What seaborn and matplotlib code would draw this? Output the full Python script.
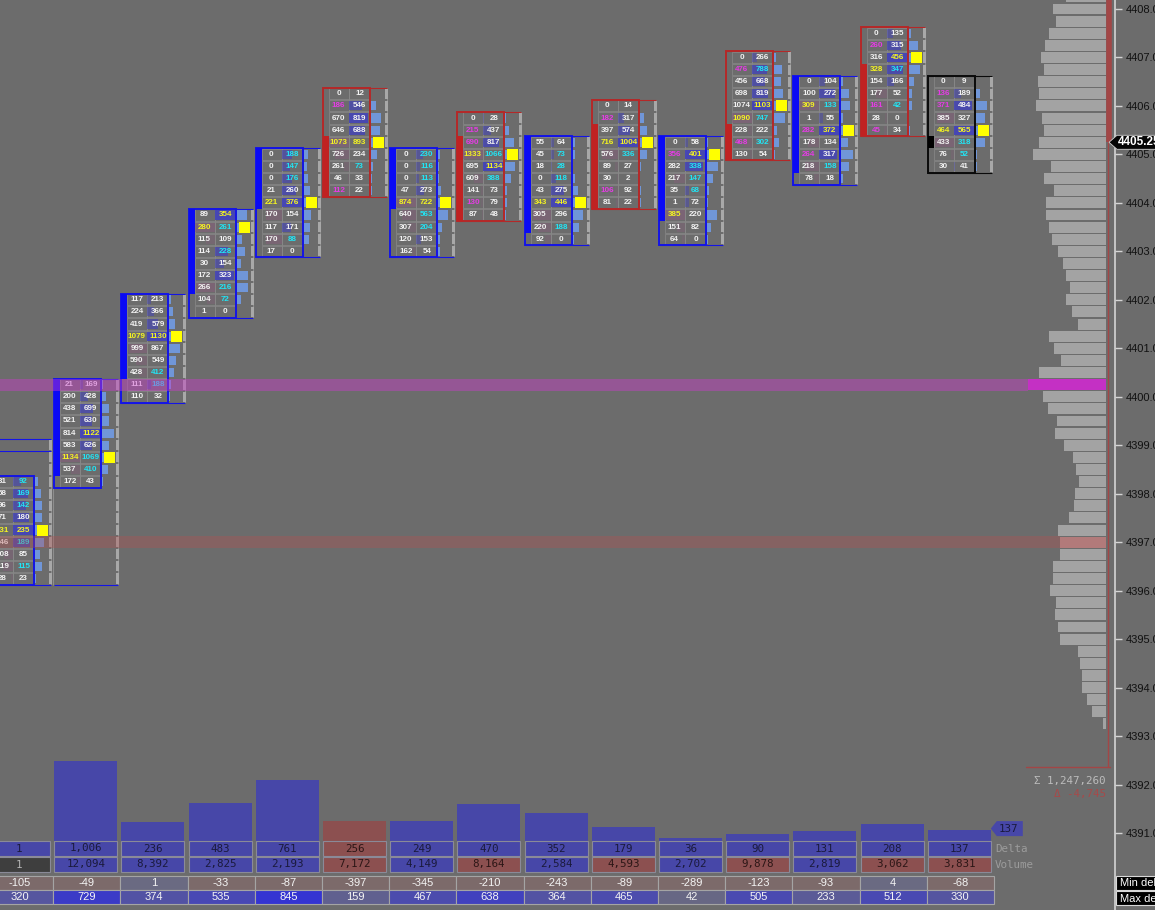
import numpy as np
import pandas as pd
import matplotlib.pyplot as plt
from matplotlib.patches import Rectangle, Polygon
import seaborn as sns

sns.set_theme(style='dark')
plt.rcParams['font.family'] = ['Liberation Sans', 'DejaVu Sans']

BG = '#6c6c6c'
W, H = 1155, 910

# --- footprint bars: rows listed from the top price downwards ---
tops = [4398.25, 4400.25, 4402.0, 4403.75, 4405.0, 4406.25, 4405.0, 4405.75,
        4405.25, 4406.0, 4405.25, 4407.0, 4406.5, 4407.5, 4406.5]
opens = [4396.75, 4398.5, 4400.5, 4402.25, 4404.0, 4405.25, 4404.0, 4405.25,
         4403.5, 4405.5, 4403.75, 4405.5, 4404.75, 4406.75, 4405.25]
closes = [4398.0, 4400.25, 4402.0, 4403.75, 4405.0, 4404.25, 4405.0, 4403.75,
          4405.25, 4404.0, 4405.25, 4405.0, 4406.5, 4405.5, 4405.25]
col_hi = [4399.0, 4400.25, 4402.0, 4403.75, 4405.0, 4406.25, 4405.0, 4405.75,
          4405.25, 4406.0, 4405.25, 4407.0, 4406.5, 4407.5, 4406.5]
col_lo = [4396.25, 4396.25, 4400.0, 4401.75, 4403.0, 4404.25, 4403.0, 4403.75,
          4403.25, 4404.0, 4403.25, 4405.0, 4404.5, 4405.5, 4404.75]
bids = [
    [31, 58, 96, 71, 231, 146, 108, 119, 28],
    [21, 200, 438, 521, 814, 583, 1134, 537, 172],
    [117, 224, 419, 1079, 999, 590, 428, 111, 110],
    [89, 280, 115, 114, 30, 172, 266, 104, 1],
    [0, 0, 0, 21, 221, 170, 117, 170, 17],
    [0, 186, 670, 646, 1073, 726, 261, 46, 112],
    [0, 0, 0, 47, 874, 640, 307, 120, 162],
    [0, 215, 690, 1333, 695, 609, 141, 130, 87],
    [55, 45, 18, 0, 43, 343, 305, 220, 92],
    [0, 182, 397, 716, 576, 89, 30, 106, 81],
    [0, 356, 282, 217, 35, 1, 385, 151, 64],
    [0, 476, 456, 698, 1074, 1090, 228, 468, 130],
    [0, 100, 309, 1, 282, 178, 264, 218, 78],
    [0, 260, 316, 328, 154, 177, 161, 28, 45],
    [0, 136, 371, 385, 464, 433, 76, 30],
]
asks = [
    [92, 169, 142, 180, 235, 189, 85, 115, 23],
    [169, 428, 699, 630, 1122, 626, 1069, 410, 43],
    [213, 366, 579, 1130, 867, 549, 412, 188, 32],
    [354, 261, 109, 228, 154, 323, 216, 72, 0],
    [188, 147, 176, 260, 376, 154, 171, 88, 0],
    [12, 546, 819, 688, 893, 234, 73, 33, 22],
    [230, 116, 113, 273, 722, 563, 204, 153, 54],
    [28, 437, 817, 1066, 1134, 388, 73, 79, 48],
    [64, 73, 28, 118, 275, 446, 296, 188, 0],
    [14, 317, 574, 1004, 336, 27, 2, 92, 22],
    [58, 401, 338, 147, 68, 72, 220, 82, 0],
    [266, 788, 668, 819, 1103, 747, 222, 302, 54],
    [104, 272, 133, 55, 372, 134, 317, 158, 18],
    [135, 315, 456, 347, 166, 52, 42, 0, 34],
    [9, 189, 484, 327, 565, 318, 52, 41],
]

# --- bottom study ---
deltas = [1, 1006, 236, 483, 761, 256, 249, 470, 352, 179, 36, 90, 131, 208, 137]
delta_side = ['b', 'b', 'b', 'b', 'b', 'r', 'b', 'b', 'b', 'b', 'b', 'b', 'b', 'b', 'b']
volumes = [1, 12094, 8392, 2825, 2193, 7172, 4149, 8164, 2584, 4593, 2702, 9878, 2819, 3062, 3831]
vol_side = ['n', 'b', 'b', 'b', 'b', 'r', 'b', 'r', 'b', 'r', 'b', 'r', 'b', 'r', 'r']
min_delta = [-105, -49, 1, -33, -87, -397, -345, -210, -243, -89, -289, -123, -93, 4, -68]
max_delta = [320, 729, 374, 535, 845, 159, 467, 638, 364, 465, 42, 505, 233, 512, 330]

# --- session volume profile (right) ---
prof_prices = list(np.arange(4408.25, 4393.0, -0.25))
prof_vol = [16000, 21200, 20000, 22800, 24400, 26000, 24800, 27200, 26800, 28000,
            25600, 24800, 26800, 29200, 22000, 24800, 20800, 24000, 24000, 22800,
            21600, 19200, 17200, 16000, 14400, 16000, 13600, 11200, 22800, 20800,
            18000, 26800, 31200, 25200, 23200, 19600, 20400, 16800, 13200, 12000,
            10800, 12400, 12800, 14800, 19200, 18400, 18400, 21200, 21200, 22400,
            20000, 20400, 19200, 18400, 11200, 10400, 9600, 9600, 7600, 5600, 1200]
poc_price = 4400.25
hvn_price = 4397.0
last_price = 4405.25
total_vol = '1,247,260'
total_delta = '-4,745'

ux, uy = 1 / 67.2, 1 / 48.47
XL = (13 * ux, 1128 * ux)
YL = (4408 - 901 * uy, 4408 + 9 * uy)

fig = plt.figure(figsize=(W / 100, H / 100), dpi=100)
fig.patch.set_facecolor(BG)

ax = fig.add_axes([0, 0, 1115 / W, 1])
ax.set_facecolor(BG)
ax.set_xlim(*XL)
ax.set_ylim(*YL)
ax.grid(False)
for s in ['left', 'top', 'bottom']:
    ax.spines[s].set_visible(False)
ax.spines['right'].set_color('#d4d4d4')
ax.spines['right'].set_linewidth(1.2)
ax.yaxis.tick_right()
ticks = np.arange(4391, 4409)
ax.set_yticks(ticks)
ax.set_yticklabels([f'{t:.1f}' for t in ticks], fontsize=8, color='#111111')
ax.tick_params(axis='y', length=5, width=1, color='#d4d4d4', pad=3, right=True, left=False)
ax.set_xticks([])

edge_c = {'b': '#1414e6', 'r': '#b42828', 'k': '#0a0a0a'}
body_c = {'b': '#0a0af5', 'r': '#c02222', 'k': '#000000'}

for i in range(len(tops)):
    b = np.array(bids[i])
    a = np.array(asks[i])
    n = len(b)
    pr = tops[i] - 0.25 * np.arange(n)
    side = 'b' if closes[i] > opens[i] else ('r' if closes[i] < opens[i] else 'k')
    B = float(i)

    # column outline
    chi, clo = col_hi[i] + 0.125, col_lo[i] - 0.125
    ax.vlines([B - ux, B + 64 * ux], clo, chi, color='#8e8e8e', lw=0.8, zorder=1)
    ax.hlines([clo, chi], B, B + 64 * ux, color=edge_c[side], lw=0.8, zorder=1)
    if col_hi[i] > tops[i]:
        ax.hlines(col_hi[i] - 0.125, B, B + 64 * ux, color=edge_c[side], lw=0.8, zorder=1)
    for p in np.arange(col_hi[i], col_lo[i] - 0.01, -0.25):
        ax.add_patch(Rectangle((B + 62 * ux, p - 0.125 + uy), 3 * ux, 0.25 - 2 * uy,
                               fc='#a8a8a8', ec='none', zorder=2))

    # colours of the numbers
    bc = ['#f2f2f2'] * n
    ac = ['#f2f2f2'] * n
    for k in range(n):
        if k + 1 < n and a[k] > 0 and a[k] >= 1.5 * b[k + 1]:
            ac[k] = '#22e4f4'
        if k > 0 and b[k] > 0 and b[k] >= 1.5 * a[k - 1]:
            bc[k] = '#e43ce4'
        if a[k] == a.max():
            ac[k] = '#f4f422'
        if b[k] == b.max():
            bc[k] = '#f4f422'

    tot = b + a
    for k in range(n):
        y0 = pr[k] - 0.125
        ax.add_patch(Rectangle((B + 6 * ux, y0 + 0.5 * uy), 20 * ux, 0.25 - uy,
                               fc='none', ec='#8a8a8a', lw=0.5, zorder=2))
        ax.add_patch(Rectangle((B + 26 * ux, y0 + 0.5 * uy), 21 * ux, 0.25 - uy,
                               fc='none', ec='#8a8a8a', lw=0.5, zorder=2))
        if a[k] > b[k]:
            r = a[k] / a.max()
            ax.add_patch(Rectangle((B + 26 * ux, y0 + 1.5 * uy), 21 * ux * r, 0.25 - 3 * uy,
                                   fc='#4444b8', alpha=0.35 + 0.6 * r, ec='none', zorder=2))
        elif b[k] > a[k]:
            r = b[k] / b.max()
            ax.add_patch(Rectangle((B + 26 * ux - 20 * ux * r, y0 + 1.5 * uy), 20 * ux * r,
                                   0.25 - 3 * uy, fc='#84607a', alpha=0.25 + 0.4 * r,
                                   ec='none', zorder=2))
        ax.text(B + 15.5 * ux, pr[k], str(b[k]), color=bc[k], fontsize=5.8, weight='bold',
                ha='center', va='center', zorder=4, clip_on=True)
        ax.text(B + 36.5 * ux, pr[k], str(a[k]), color=ac[k], fontsize=5.8, weight='bold',
                ha='center', va='center', zorder=4, clip_on=True)
        # bar profile
        ax.add_patch(Rectangle((B + 48 * ux, y0 + 1.5 * uy), 13 * ux * tot[k] / tot.max(),
                               0.25 - 3 * uy, fc='#7096d8', ec='none', zorder=2))

    # box and candle body
    ax.add_patch(Rectangle((B, pr[-1] - 0.125), 47 * ux, n * 0.25, fc='none',
                           ec=edge_c[side], lw=1.4, zorder=3))
    bhi = max(opens[i], closes[i]) + 0.125
    blo = min(opens[i], closes[i]) - 0.125
    ax.add_patch(Rectangle((B, blo), 6 * ux, bhi - blo, fc=body_c[side], ec='none', zorder=3))
    poc = int(np.argmax(tot))
    ax.add_patch(Rectangle((B + 50 * ux, pr[poc] - 5.5 * uy), 11 * ux, 11 * uy,
                           fc='#ffff00', ec='none', zorder=5))

# highlighted profile levels across the chart
ax.axhspan(poc_price - 0.125, poc_price + 0.125, xmin=0, xmax=1028 / 1115,
           color='#c83cc8', alpha=0.45, lw=0, zorder=8)
ax.axhspan(hvn_price - 0.125, hvn_price + 0.125, xmin=0, xmax=1060 / 1115,
           color='#b45050', alpha=0.35, lw=0, zorder=8)

# profile frame (red) and last price tag
vp_bottom = 4408 - 758 * uy
ax.plot([1122 * ux, 1122 * ux], [last_price, YL[1]], color='#a24646', lw=4, zorder=6,
        solid_capstyle='butt')
ax.plot([1121 * ux, 1121 * ux], [vp_bottom, last_price], color='#a24646', lw=1, zorder=6)
ax.plot([1039 * ux, 1123 * ux], [vp_bottom, vp_bottom], color='#a24646', lw=1, zorder=6)
tag = Polygon([(1122 * ux, last_price), (1130 * ux, last_price + 7 * uy),
               (1180 * ux, last_price + 7 * uy), (1180 * ux, last_price - 7 * uy),
               (1130 * ux, last_price - 7 * uy)], closed=True, fc='#050505',
              ec='#d0d0d0', lw=0.6, zorder=9, clip_on=False)
ax.add_patch(tag)
ax.text(1131 * ux, last_price, f'{last_price:.2f}', color='white', fontsize=8.5, weight='bold',
        va='center', ha='left', zorder=10, clip_on=False)

# session volume profile
ax_vp = fig.add_axes([1020 / W, 0, 86 / W, 1])
prof = pd.DataFrame({'price': prof_prices, 'vol': prof_vol})
prof['kind'] = np.where(np.isclose(prof['price'], poc_price), 'poc',
                        np.where(np.isclose(prof['price'], hvn_price), 'hvn', 'n'))
sns.barplot(data=prof, x='vol', y='price', hue='kind', orient='y', native_scale=True,
            palette={'poc': '#c430c4', 'hvn': '#b27a7a', 'n': '#a3a3a3'}, width=0.9,
            dodge=False, errorbar=None, saturation=1, legend=False, linewidth=0, ax=ax_vp)
ax_vp.set_xlim(86 * 400, 0)
ax_vp.set_ylim(*YL)
ax_vp.axis('off')
ax_vp.patch.set_alpha(0)

# delta histogram
ax_h = fig.add_axes([0, 1 - 841 / H, 1115 / W, 90 / H])
hist = pd.DataFrame({'x': np.arange(len(deltas)) + 31.5 * ux,
                     'd': np.abs(deltas), 'side': delta_side})
sns.barplot(data=hist, x='x', y='d', hue='side', native_scale=True, width=63 / 67.2,
            palette={'b': '#4747a8', 'r': '#8c5050'}, dodge=False, errorbar=None,
            saturation=1, legend=False, linewidth=0, ax=ax_h)
ax_h.set_xlim(*XL)
ax_h.set_ylim(0, 1132)
ax_h.axis('off')
ax_h.patch.set_alpha(0)
hu = 1132 / 90
x14 = len(deltas) - 1
yc = deltas[-1] + 1.5 * hu
ax_h.add_patch(Polygon([(x14 + 63 * ux, yc), (x14 + 69 * ux, yc + 7.5 * hu),
                        (x14 + 95 * ux, yc + 7.5 * hu), (x14 + 95 * ux, yc - 7.5 * hu),
                        (x14 + 69 * ux, yc - 7.5 * hu)], closed=True, fc='#4747a8',
                       ec='none', clip_on=False))
ax_h.text(x14 + 81 * ux, yc, str(deltas[-1]), color='#1a1a3c', fontsize=7.8,
          family='DejaVu Sans Mono', ha='center', va='center', clip_on=False)

# tables under the bars
ax_t = fig.add_axes([0, 0, 1115 / W, 70 / H])
ax_t.set_xlim(*XL)
ax_t.set_ylim(70, 0)
ax_t.axis('off')
ax_t.patch.set_alpha(0)
cell_fc = {'b': '#4747a8', 'r': '#8c5050', 'n': '#3e3e3e'}
cell_tc = {'b': '#1a1a3c', 'r': '#2c1616', 'n': '#b4b4b4'}
mx = max(max_delta)
for i in range(len(deltas)):
    B = float(i)
    for (r0, r1), val, sd in [((1, 16), deltas[i], delta_side[i]),
                              ((17, 32), volumes[i], vol_side[i])]:
        ax_t.add_patch(Rectangle((B, r0), 63 * ux, r1 - r0, fc=cell_fc[sd],
                                 ec='#8a8a98', lw=0.8))
        ax_t.text(B + 31.5 * ux, (r0 + r1) / 2, f'{val:,}', color=cell_tc[sd], fontsize=7.8,
                  family='DejaVu Sans Mono', ha='center', va='center')
    v = min_delta[i]
    ax_t.add_patch(Rectangle((B - ux, 36), 67.2 * ux, 14,
                             fc='#7c6a6a' if v < 0 else '#6a6a82', ec='#a4a4a4', lw=0.8))
    ax_t.text(B + 32.5 * ux, 43, str(v), color='#f4f4f4', fontsize=8, ha='center', va='center')
    t = max_delta[i] / mx
    c = (1 - t) * np.array([106, 106, 128]) + t * np.array([52, 52, 210])
    ax_t.add_patch(Rectangle((B - ux, 50), 67.2 * ux, 14, fc=c / 255, ec='#a4a4a4', lw=0.8))
    ax_t.text(B + 32.5 * ux, 57, str(max_delta[i]), color='#f4f4f4', fontsize=8,
              ha='center', va='center')
ax_t.text(x14 + 67 * ux, 8.5, 'Delta', color='#9c9c9c', fontsize=7.8,
          family='DejaVu Sans Mono', va='center')
ax_t.text(x14 + 67 * ux, 24.5, 'Volume', color='#9c9c9c', fontsize=7.8,
          family='DejaVu Sans Mono', va='center')

# overlay: totals and study labels
ax_o = fig.add_axes([0, 0, 1, 1], zorder=10)
ax_o.set_xlim(0, W)
ax_o.set_ylim(H, 0)
ax_o.axis('off')
ax_o.patch.set_alpha(0)
ax_o.text(1106, 781, f'\u03a3 {total_vol}', color='#bcbcbc', fontsize=7.8,
          family='DejaVu Sans Mono', ha='right', va='center')
ax_o.text(1106, 794, f'\u0394 {total_delta}', color='#a64a4a', fontsize=7.8,
          family='DejaVu Sans Mono', ha='right', va='center')
for yy, lab in [(876, 'Min delta'), (891, 'Max delta')]:
    ax_o.add_patch(Rectangle((1116, yy), 45, 14, fc='#000000', ec='#d8d8d8', lw=0.8))
    ax_o.text(1120, yy + 7.5, lab, color='white', fontsize=8, va='center', ha='left')

fig.savefig('out.png', dpi=100, facecolor=BG)
